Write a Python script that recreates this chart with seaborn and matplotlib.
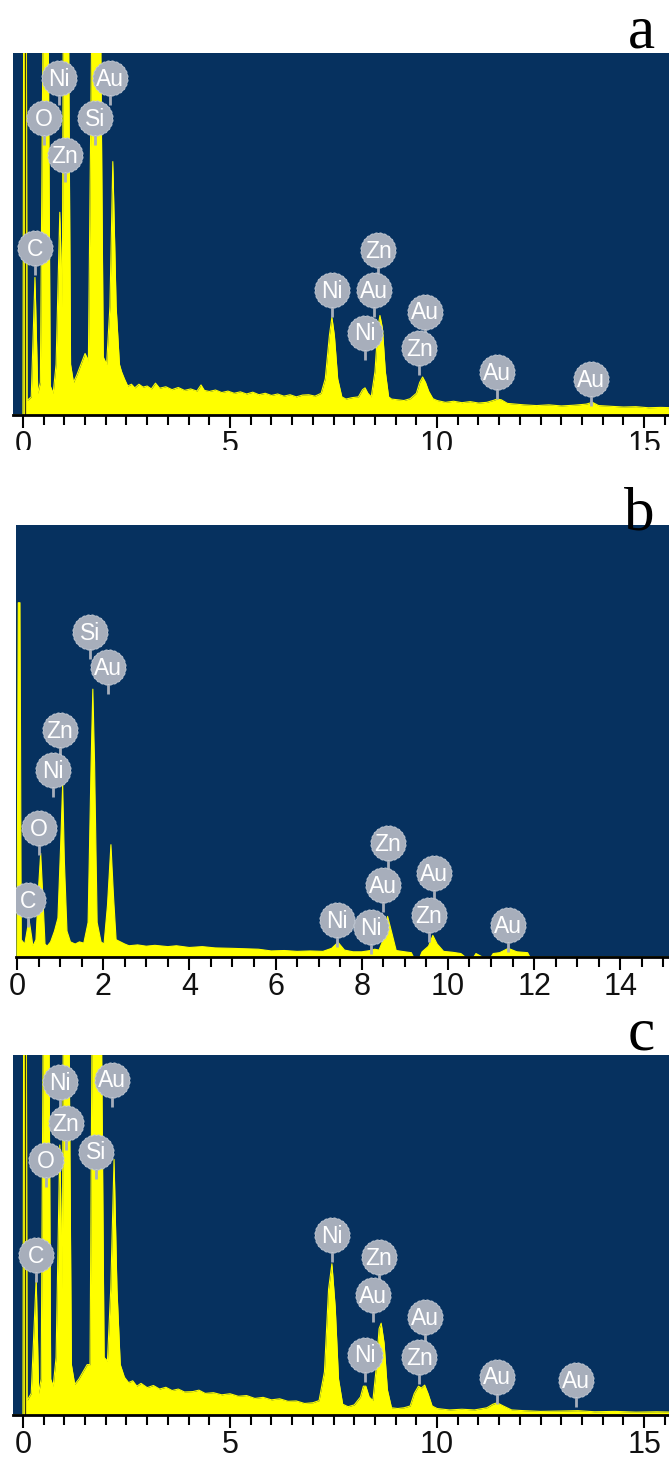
import numpy as np
import pandas as pd
import matplotlib
matplotlib.use("Agg")
import matplotlib.pyplot as plt
import seaborn as sns
from matplotlib.path import Path
from matplotlib.patches import Rectangle

# ---------------- data (energy keV, intensity % of panel height) ----------------
a_energy = [-0.3, 0.0, 0.02, 0.08, 0.1, 0.2, 0.29, 0.36, 0.42, 0.5, 0.6, 0.66, 0.73, 0.8, 0.89,
            0.95, 0.98, 1.09, 1.15, 1.22, 1.3, 1.4, 1.5, 1.58, 1.68, 1.86, 1.94, 2.02, 2.1, 2.17,
            2.25, 2.33, 2.38, 2.45, 2.53, 2.62, 2.7, 2.8, 2.9, 3.0, 3.1, 3.2, 3.3, 3.45, 3.6, 3.75,
            3.9, 4.05, 4.2, 4.3, 4.38, 4.5, 4.65, 4.8, 4.95, 5.1, 5.25, 5.4, 5.55, 5.7, 5.85, 6.0,
            6.15, 6.3, 6.45, 6.6, 6.75, 6.9, 7.05, 7.2, 7.3, 7.4, 7.46, 7.52, 7.6, 7.7, 7.8, 7.95,
            8.1, 8.2, 8.26, 8.33, 8.41, 8.5, 8.57, 8.62, 8.68, 8.75, 8.83, 8.9, 9.05, 9.2, 9.35,
            9.5, 9.58, 9.65, 9.72, 9.8, 9.9, 10.0, 10.2, 10.4, 10.6, 10.8, 11.0, 11.2, 11.35, 11.45,
            11.55, 11.7, 11.9, 12.1, 12.4, 12.7, 13.0, 13.3, 13.6, 13.75, 13.9, 14.2, 14.5, 14.8,
            15.1, 15.4, 15.7]
a_counts = [0, 0, 130, 130, 4, 5, 38, 6, 9, 130, 130, 8, 6, 14, 56,
            30, 130, 130, 14, 9, 11, 14, 17, 15, 130, 130, 16, 14, 30, 70,
            30, 14, 12, 10, 8, 8.5, 7.5, 8.5, 7.7, 8, 7.2, 8.8, 7.4, 7.8, 7.0, 7.6,
            6.8, 7.2, 6.6, 8.3, 6.8, 6.5, 6.9, 6.2, 6.6, 6.0, 6.4, 5.8, 6.3, 5.6, 6.0, 5.4,
            5.8, 5.2, 5.6, 5.0, 5.5, 5.6, 5.2, 6, 10, 22, 27, 22, 10, 5, 4.4, 4.8,
            5, 7, 7.5, 6, 5, 12, 24, 27.5, 24, 12, 5, 4.4, 4.2, 4, 4.5,
            6, 9, 10.5, 9, 6.5, 4.5, 4, 3.5, 3.8, 3.4, 3.7, 3.3, 3.5, 4, 4.4,
            4.2, 3.2, 3.0, 2.8, 2.6, 2.8, 2.5, 2.7, 3.0, 3.5, 2.6, 2.4, 2.2, 2.3,
            2.0, 2.1, 2.0]

b_energy = [-0.1, 0.0, 0.03, 0.07, 0.1, 0.18, 0.25, 0.28, 0.32, 0.37, 0.44, 0.5, 0.55, 0.6, 0.65,
            0.7, 0.78, 0.87, 0.95, 1.01, 1.06, 1.1, 1.16, 1.24, 1.35, 1.45, 1.55, 1.65, 1.72, 1.76,
            1.8, 1.86, 1.95, 2.02, 2.1, 2.18, 2.24, 2.3, 2.4, 2.5, 2.6, 2.8, 3.0, 3.2, 3.5, 3.7,
            4.0, 4.3, 4.6, 5.0, 5.3, 5.6, 5.9, 6.2, 6.5, 6.8, 7.1, 7.3, 7.45, 7.6, 7.8, 8.0, 8.2,
            8.3, 8.4, 8.5, 8.6, 8.7, 8.8, 9.0, 9.15, 9.2, 9.35, 9.4, 9.55, 9.65, 9.75, 9.9, 10.1,
            10.3, 10.4, 10.6, 10.65, 10.8, 11.0, 11.05, 11.2, 11.4, 11.6, 11.85, 11.9, 15.5]
b_counts = [0, 0, 82, 82, 4, 3, 7, 8.6, 6, 2.5, 4, 16, 24, 14, 3,
            2.5, 3.5, 6, 9, 25, 40, 22, 6, 3.5, 3, 3.5, 3.2, 8, 45, 62,
            45, 8, 3.5, 3, 12, 26, 14, 4, 3.5, 3, 2.6, 2.8, 2.5, 2.7, 2.4, 2.6,
            2.2, 2.4, 2.1, 2.0, 1.9, 1.8, 1.4, 1.5, 1.3, 1.4, 1.3, 2, 3.4, 1.6, 1.2, 1.2, 1.5,
            1.8, 1.6, 4, 9.4, 5.5, 1.5, 1.2, 1.0, 0, 0, 1.2, 2.5, 5, 3, 1.3, 1.1,
            0.8, 0, 0, 0.8, 0, 0, 0.8, 1.0, 2.0, 1.2, 1.0, 0, 0]

c_energy = [-0.3, 0.0, 0.02, 0.08, 0.1, 0.2, 0.32, 0.38, 0.44, 0.5, 0.62, 0.67, 0.73, 0.8, 0.89,
            0.95, 0.98, 1.1, 1.17, 1.25, 1.35, 1.45, 1.55, 1.62, 1.68, 1.88, 1.96, 2.04, 2.12, 2.2,
            2.27, 2.35, 2.45, 2.55, 2.65, 2.75, 2.85, 3.0, 3.15, 3.3, 3.45, 3.6, 3.75, 3.9, 4.1,
            4.25, 4.4, 4.6, 4.8, 5.0, 5.2, 5.4, 5.6, 5.8, 6.0, 6.2, 6.4, 6.6, 6.8, 7.0, 7.15, 7.28,
            7.38, 7.46, 7.54, 7.62, 7.72, 7.85, 8.0, 8.15, 8.22, 8.28, 8.36, 8.45, 8.53, 8.6, 8.65,
            8.72, 8.8, 8.9, 9.05, 9.2, 9.35, 9.45, 9.55, 9.62, 9.7, 9.78, 9.88, 10.0, 10.3, 10.6,
            10.9, 11.2, 11.35, 11.45, 11.6, 11.8, 12.1, 12.5, 13.0, 13.4, 13.8, 14.3, 14.8, 15.3, 15.7]
c_counts = [0, 0, 130, 130, 4, 6, 38, 6, 10, 130, 130, 10, 8, 16, 75,
            35, 130, 130, 14, 8.5, 10, 12, 14, 14, 130, 130, 16, 15, 35, 71,
            35, 14, 10.5, 9, 9.5, 8, 8.8, 7.6, 8.2, 7.2, 7.7, 6.8, 7.2, 6.4, 6.5,
            6.9, 6.0, 6.2, 5.6, 5.9, 5.2, 5.4, 4.6, 4.9, 4.2, 4.5, 3.8, 3.9, 3.2, 3.4, 4, 12,
            35, 42, 30, 10, 3, 2.3, 2.8, 5, 8, 8, 5, 4, 13, 24, 25.5,
            20, 7, 2, 1.8, 2, 2.5, 6, 8, 7.5, 8.3, 6, 2.5, 1.8, 1.4, 1.6,
            1.4, 2, 3, 3.4, 2.5, 1.4, 1.2, 1.0, 1.1, 1.2, 0.9, 1.0, 0.8, 0.9, 0.8]

# element labels: (text, energy keV, label height %)
a_labels = [("Ni", 0.87, 93.1), ("Au", 2.10, 93.1), ("O", 0.51, 82.0), ("Si", 1.74, 82.0),
            ("Zn", 1.01, 71.8), ("C", 0.29, 46.1), ("Zn", 8.58, 45.6), ("Ni", 7.46, 34.5),
            ("Au", 8.48, 34.5), ("Ni", 8.26, 22.7), ("Au", 9.71, 28.5), ("Zn", 9.57, 18.5),
            ("Au", 11.45, 11.9), ("Au", 13.72, 9.9)]
b_labels = [("Si", 1.69, 75.2), ("Au", 2.11, 67.1), ("Zn", 1.00, 52.5), ("Ni", 0.84, 43.3),
            ("O", 0.51, 29.9), ("C", 0.26, 13.2), ("Zn", 8.61, 26.4), ("Au", 8.49, 16.7),
            ("Ni", 7.42, 8.6), ("Ni", 8.21, 6.9), ("Au", 9.68, 19.4), ("Zn", 9.56, 9.7),
            ("Au", 11.39, 7.4)]
c_labels = [("Ni", 0.89, 92.5), ("Au", 2.15, 93.1), ("Zn", 1.04, 81.1), ("O", 0.56, 70.8),
            ("Si", 1.76, 73.1), ("C", 0.31, 44.4), ("Ni", 7.46, 50.0), ("Zn", 8.60, 43.9),
            ("Au", 8.45, 33.3), ("Au", 9.71, 27.2), ("Ni", 8.26, 16.7), ("Zn", 9.57, 16.1),
            ("Au", 11.45, 10.6), ("Au", 13.36, 9.7)]

a_ticks = [0, 5, 10, 15]
b_ticks = [0, 2, 4, 6, 8, 10, 12, 14]
c_ticks = [0, 5, 10, 15]
panel_letters = ["a", "b", "c"]

# ---------------- style ----------------
sns.set_theme(style="white")
plt.rcParams["font.family"] = ["Liberation Sans Narrow", "Liberation Sans", "DejaVu Sans"]

BLUE = "#06315f"
YELLOW = "#ffff00"
GRAY = "#a7aebb"

W, H = 669, 1461
fig = plt.figure(figsize=(W / 100, H / 100), dpi=100)
fig.patch.set_facecolor("white")


def px_axes(left, top, right, bottom):
    return fig.add_axes([left / W, 1 - bottom / H, (right - left) / W, (bottom - top) / H])


# scalloped badge marker
theta = np.linspace(0, 2 * np.pi, 289)
rad = 1 + 0.05 * np.abs(np.sin(12 * theta))
badge = Path(np.column_stack([rad * np.cos(theta), rad * np.sin(theta)]), closed=True)

panels = [
    dict(E=a_energy, I=a_counts, labels=a_labels, ticks=a_ticks, box=(13, 53, 669, 415),
         xlim=(-0.24, 15.6), strobe=True, letter_y=48),
    dict(E=b_energy, I=b_counts, labels=b_labels, ticks=b_ticks, box=(16, 525, 669, 957),
         xlim=(-0.023, 15.13), strobe=False, letter_y=530),
    dict(E=c_energy, I=c_counts, labels=c_labels, ticks=c_ticks, box=(13, 1055, 669, 1415),
         xlim=(-0.24, 15.6), strobe=True, letter_y=1050),
]

for p, letter in zip(panels, panel_letters):
    l, t, r, b = p["box"]
    ax = px_axes(l, t, r, b)
    ax.set_facecolor(BLUE)
    df = pd.DataFrame({"E": p["E"], "I": p["I"]})
    ax.fill_between(df["E"], 0, df["I"], color=YELLOW, lw=0, zorder=2)
    sns.lineplot(data=df, x="E", y="I", color=YELLOW, lw=0.8, ax=ax, sort=False,
                 estimator=None, zorder=3)
    if p["strobe"]:
        ax.axvline(0.05, color="#3a3a10", lw=0.9, zorder=4)
    ax.set_xlim(*p["xlim"])
    ax.set_ylim(0, 100)
    ax.set_xlabel("")
    ax.set_ylabel("")
    ax.set_yticks([])
    ax.set_xticks(p["ticks"])
    ax.set_xticklabels([str(v) for v in p["ticks"]])
    ax.set_xticks(np.arange(0, p["xlim"][1], 0.5), minor=True)
    ax.tick_params(axis="x", which="both", direction="out", bottom=True, color="black",
                   width=1.5, pad=2, labelsize=22, labelcolor="#111111")
    ax.tick_params(axis="x", which="major", length=9)
    ax.tick_params(axis="x", which="minor", length=7)
    for s in ["top", "left", "right"]:
        ax.spines[s].set_visible(False)
    ax.spines["bottom"].set_color("black")
    ax.spines["bottom"].set_linewidth(2)
    ax.spines["bottom"].set_zorder(6)

    px_per_pct = (b - t) / 100.0
    r_pct = 17 / px_per_pct
    stem_pct = 10 / px_per_pct
    lab = pd.DataFrame(p["labels"], columns=["txt", "E", "y"])
    for _, row in lab.iterrows():
        ax.plot([row.E, row.E], [row.y - r_pct * 0.8, row.y - r_pct - stem_pct],
                color=GRAY, lw=2, zorder=7, solid_capstyle="butt")
    sns.scatterplot(data=lab, x="E", y="y", marker=badge, s=640, color=GRAY,
                    edgecolor="#c4cad4", linewidth=0.6, ax=ax, zorder=8, legend=False)
    for _, row in lab.iterrows():
        ax.text(row.E, row.y - 0.3, row.txt, color="white", fontsize=16.5, ha="center",
                va="center", zorder=9)
    ax.set_xlabel("")
    ax.set_ylabel("")

    fig.text(655 / W, 1 - p["letter_y"] / H, letter, family="Liberation Serif",
             fontsize=44, ha="right", va="baseline", color="black")

# panel (a) tick labels are cropped at the bottom in the source figure
fig.add_artist(Rectangle((0, 1 - 483 / H), 1, (483 - 450) / H, transform=fig.transFigure,
                         facecolor="white", edgecolor="none", zorder=20))

fig.savefig("out.png", dpi=100, facecolor="white")
